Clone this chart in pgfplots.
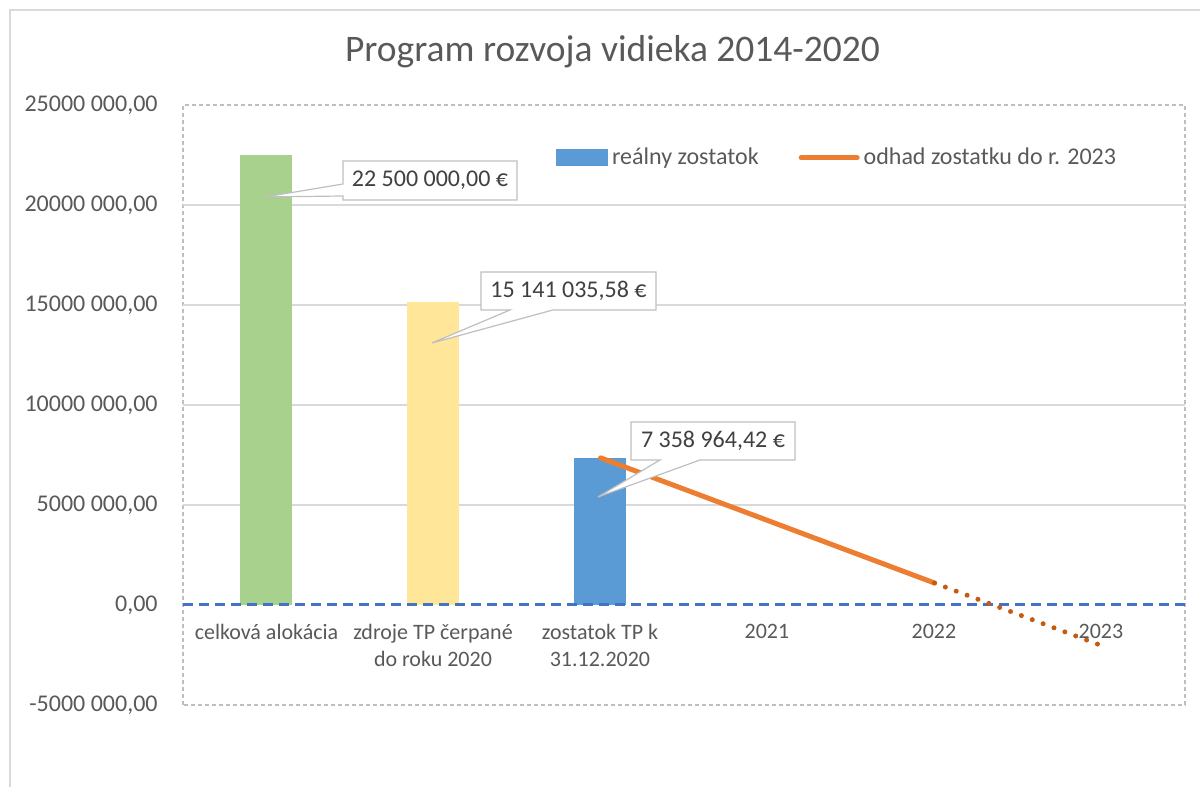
\documentclass[border=0pt]{standalone}
\usepackage{fontspec}
\setmainfont{Carlito}
\usepackage{pgfplots}
\pgfplotsset{compat=1.18}

\definecolor{zelena}{HTML}{A9D18E}
\definecolor{zlta}{HTML}{FFE699}
\definecolor{modra}{HTML}{5B9BD5}
\definecolor{oranz}{HTML}{ED7D31}
\definecolor{oranztm}{HTML}{C55A11}
\definecolor{nula}{HTML}{4472C4}
\definecolor{mriezka}{HTML}{D9D9D9}
\definecolor{okraj}{HTML}{BFBFBF}
\definecolor{sedy}{HTML}{595959}
\definecolor{tmavy}{HTML}{404040}

\begin{document}
\begin{tikzpicture}[font=\fontsize{12bp}{14bp}\selectfont]
\useasboundingbox (-91.5bp,-41bp) rectangle (508.5bp,352.5bp);
\begin{axis}[
  at={(0,0)}, anchor=south west,
  scale only axis, width=501bp, height=300bp,
  xmin=-0.5, xmax=5.5, ymin=-5000000, ymax=25000000,
  xtick=\empty,
  ytick={-5000000,0,5000000,10000000,15000000,20000000,25000000},
  yticklabels={{-5000 000,00},{0,00},{5000 000,00},{10000 000,00},{15000 000,00},{20000 000,00},{25000 000,00}},
  yticklabel style={font=\fontsize{12bp}{14bp}\selectfont, text=sedy, inner sep=0pt, xshift=-12.5bp},
  major tick length=0pt,
  extra y ticks={5000000,10000000,15000000,20000000},
  extra y tick labels={},
  extra y tick style={grid=major, major grid style={mriezka, line width=0.75bp}},
  axis line style={okraj, line width=0.6bp, dash pattern=on 2bp off 1.5bp},
  scaled y ticks=false,
  ybar, bar width=26bp,
  legend columns=2,
  legend style={draw=none, fill=none, at={(0.372,0.912)}, anchor=west,
    inner sep=0pt, font=\fontsize{12bp}{14bp}\selectfont, text=sedy,
    /tikz/every even column/.append style={column sep=18bp}},
]
\addplot[fill=zelena, draw=none, forget plot] coordinates {(0,22500000)};
\addplot[fill=zlta, draw=none, forget plot] coordinates {(1,15141035.58)};
\addplot[fill=modra, draw=none,
  legend image code/.code={\fill[modra] (0bp,-4.25bp) rectangle (26bp,4.25bp);}]
  coordinates {(2,7358964.42)};
\addlegendentry{reálny zostatok}
\draw[nula, line width=1.5bp, dash pattern=on 5bp off 3bp] (axis cs:-0.5,0) -- (axis cs:5.5,0);
\addplot[sharp plot, oranz, line width=2.5bp, line cap=round, mark=none,
  legend image code/.code={\draw[oranz, line width=2.5bp, line cap=round] (0bp,0bp) -- (28bp,0bp);}]
  coordinates {(2,7358964.42) (3,4230000) (4,1100000)};
\addlegendentry{odhad zostatku do r. 2023}
\addplot[sharp plot, oranztm, line width=2.5bp, line cap=round, mark=none,
  dash pattern=on 0pt off 5.8bp, forget plot]
  coordinates {(4,1100000) (5,-2030000)};
\end{axis}

\begin{scope}[x=0.5bp, y=-0.5bp, shift={(-91.5bp,352.5bp)}]
  % ramik grafu
  \draw[mriezka, line width=0.75bp] (10,787) -- (10,10) -- (1200,10);
  % nadpis
  \node[text=sedy, font=\fontsize{18.75bp}{22bp}\selectfont] at (612.5,52) {Program rozvoja vidieka 2014-2020};
  % kategorie
  \foreach \x/\t in {266.5/{celková alokácia}, 433/{zdroje TP čerpané\\do roku 2020},
      600/{zostatok TP k\\31.12.2020}, 767/2021, 934/2022, 1101/2023}
    \node[anchor=north, align=center, inner sep=0pt, text=sedy,
      font=\fontsize{11bp}{13.2bp}\selectfont] at (\x,624) {\t};
  % popisky hodnot
  \filldraw[fill=white, draw=okraj, line width=0.6bp]
    (343,161) -- (517,161) -- (517,200) -- (343,200) -- (343,196) -- (265,197) -- (343,184) -- cycle;
  \node[text=tmavy] at (430,180.5) {22 500 000,00 €};
  \filldraw[fill=white, draw=okraj, line width=0.6bp]
    (481,272) -- (656,272) -- (656,310) -- (553,310) -- (432,343) -- (510,310) -- (481,310) -- cycle;
  \node[text=tmavy] at (568.5,291) {15 141 035,58 €};
  \filldraw[fill=white, draw=okraj, line width=0.6bp]
    (631,422) -- (795,422) -- (795,460) -- (700,460) -- (598,497) -- (660,460) -- (631,460) -- cycle;
  \node[text=tmavy] at (713,441) {7 358 964,42 €};
\end{scope}
\end{tikzpicture}
\end{document}
